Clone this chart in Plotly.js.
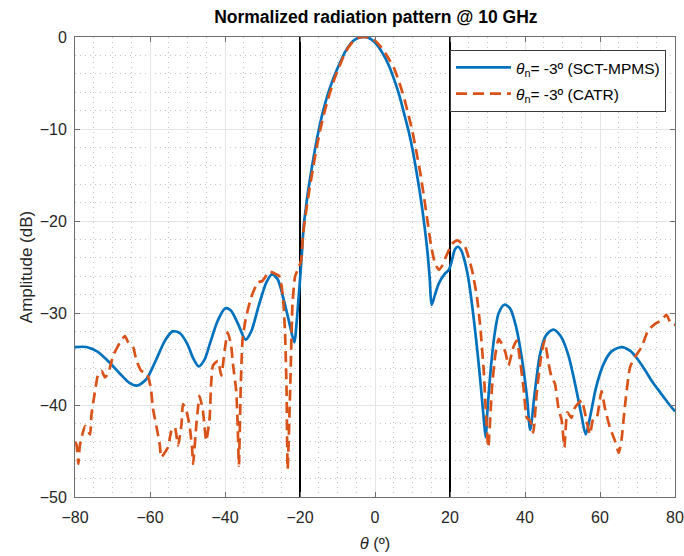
<!DOCTYPE html>
<html>
<head>
<meta charset="utf-8">
<script src="https://cdn.plot.ly/plotly-3.0.1.min.js"></script>
<style>html,body{margin:0;padding:0;background:#fff;}#chart{width:684px;height:556px;}</style>
</head>
<body>
<div id="chart"></div>
<script>
// SCT-MPMS measurement (theta in degrees, amplitude in dB)
const thetaSCT = [-80,-77,-74,-71,-68,-65.5,-63.5,-61,-58.5,-56,-54,-52,-50,-48.5,-47,-45.5,-44,-42,-40,-38.5,-36.5,-34.5,-33,-31,-29,-27.5,-26,-24.5,-23,-21.5,-21,-20.5,-20,-19.5,-19,-18.5,-18,-17,-16,-15,-14,-13,-12,-11,-10,-9,-8,-7,-6,-5,-4,-3,-2,-1,0,1,2,3,4,5,6,7,8,9,10,11,12,13,14,14.6,15.1,16,17,18.5,19.7,20.5,21.3,22.1,23,24,25,26,27,28,29,29.5,30,31,32,33,34.5,36,37.5,39,40.5,41.4,42.5,44,45.5,47.5,49.5,51.5,53.5,55,56.2,57.5,59,61,63,65.7,68,70,72,74,76,78,80];
const ampSCT = [-33.7,-33.7,-34.2,-35.3,-36.6,-37.6,-37.9,-37.2,-35.2,-33.0,-32.0,-32.2,-33.4,-34.9,-35.8,-35.1,-33.3,-30.9,-29.5,-29.7,-31.2,-32.9,-32.0,-29.2,-26.7,-25.8,-26.3,-28.3,-30.8,-33.2,-31.5,-29.0,-26.4,-23.5,-20.5,-18.8,-17.2,-14.6,-12.2,-10.1,-8.3,-6.8,-5.5,-4.4,-3.4,-2.5,-1.65,-1.0,-0.5,-0.2,-0.05,0,-0.05,-0.25,-0.6,-1.1,-1.75,-2.5,-3.4,-4.5,-5.7,-7.1,-8.7,-10.3,-12.2,-14.5,-17.0,-19.9,-23.4,-26.3,-29.1,-28.0,-26.8,-25.8,-25.3,-24.3,-23.1,-22.8,-23.2,-24.5,-26.5,-29.5,-33.0,-37.0,-41.5,-43.5,-40.5,-35.5,-32.0,-30.0,-29.1,-29.5,-31.3,-34.5,-39.0,-42.7,-39.0,-34.5,-32.5,-31.8,-32.5,-34.5,-38.0,-41.0,-43.2,-41.0,-38.0,-35.5,-34.2,-33.7,-34.1,-35.0,-36.2,-37.5,-38.6,-39.7,-40.7];

// CATR measurement
const thetaCATR = [-80,-79.6,-79.1,-78.7,-77.3,-76,-75.6,-74.7,-73.8,-72.9,-72,-71.1,-69.8,-68,-66.7,-65.8,-64.5,-63.6,-62.3,-60.9,-59.8,-59.2,-58.3,-57.4,-57,-56.1,-55.2,-54.3,-53.4,-52.5,-51.6,-51.2,-50.3,-49.4,-48.8,-48.5,-47.7,-47.2,-46.8,-45.9,-45,-44.1,-43.7,-43.2,-41.9,-41,-40.1,-39.3,-38.4,-37.9,-37,-36.6,-36.3,-35.8,-35.3,-34.4,-33,-31.3,-30,-28.2,-26.8,-25.5,-24.6,-24.0,-23.6,-23.3,-22.6,-22.0,-21.3,-20.3,-19.7,-19.2,-18.5,-17.5,-16.5,-15.5,-14.5,-13.5,-12.5,-11.5,-10.5,-9.5,-8.5,-7.5,-6.5,-5.5,-4.5,-3,-1.5,0,1,2,3,4,5,6,7,8,9,10,11,12,13,14,15,16,17,18,19,20.5,22,24,25.9,27.2,28.1,29,29.5,30.2,31.2,32.1,33,34,34.8,35.6,36.9,37.8,38.7,39.6,40.5,41.4,42.2,43.1,44.2,45.2,46.3,47.1,48,48.9,49.8,50.5,51.3,52.4,53.3,55.1,56.4,57.3,58.2,59.1,60.4,61.3,62.6,64,65,65.7,66.6,68,69.3,71.1,72.8,74.6,76.4,77.7,79,80];
const ampCATR = [-44.0,-44.3,-46.4,-44.4,-42.3,-43.2,-41.0,-38.6,-36.6,-36.3,-37.0,-36.5,-34.6,-33.2,-32.5,-33.2,-33.7,-35.2,-36.3,-36.5,-38.1,-40.4,-42.3,-44.3,-45.7,-45.2,-44.6,-42.8,-42.4,-44.4,-42.1,-39.9,-40.6,-42.4,-44.6,-46.4,-42.4,-40.3,-39.0,-40.6,-43.9,-41.4,-37.7,-35.7,-35.2,-36.8,-34.1,-32.1,-33.4,-35.5,-38.5,-42.4,-46.6,-38.0,-32.8,-30.5,-28.3,-26.7,-26.5,-25.5,-25.7,-26.0,-28.0,-32.0,-38.0,-47.0,-38.0,-29.0,-26.0,-25.0,-24.3,-21.5,-19.3,-16.6,-14.2,-11.9,-9.9,-8.2,-6.7,-5.4,-4.2,-3.2,-2.2,-1.4,-0.8,-0.35,-0.1,0,-0.08,-0.4,-0.8,-1.3,-1.9,-2.6,-3.3,-4.4,-5.6,-7.0,-8.6,-10.3,-12.4,-14.6,-17.2,-20.0,-22.8,-24.6,-25.3,-24.8,-23.8,-22.5,-22.1,-22.8,-25.4,-28.3,-31.6,-36.3,-40.3,-44.6,-38.1,-34.5,-32.8,-33.5,-34.3,-35.7,-33.7,-33.0,-35.2,-38.1,-41.4,-41.7,-43.0,-38.8,-35.0,-33.0,-35.5,-37.0,-37.7,-40.3,-41.7,-44.6,-40.8,-41.4,-40.3,-39.5,-41.7,-43.2,-41.5,-41.4,-38.5,-40.3,-42.4,-43.9,-45.2,-43.9,-40.3,-35.9,-34.8,-33.7,-31.9,-31.2,-30.8,-30.2,-31.2,-31.3];

// Reference angles marked with vertical lines
const markerAngles = [-20, 20];
const yLimits = [-50, 0];
const xLimits = [-80, 80];

const legendSCT = '<i>θ</i><sub>n</sub>= -3º (SCT-MPMS)';
const legendCATR = '<i>θ</i><sub>n</sub>= -3º (CATR)';

const traces = [];
markerAngles.forEach(a => {
  traces.push({x:[a,a], y:yLimits, mode:'lines', line:{color:'#000000', width:2}, showlegend:false, hoverinfo:'skip'});
});
traces.push({x:thetaSCT, y:ampSCT, mode:'lines', name:legendSCT, legendgroup:'sct', line:{color:'#0072BD', width:2.7, shape:'spline', smoothing:0.8}});
traces.push({x:thetaCATR, y:ampCATR, mode:'lines', name:legendCATR, legendgroup:'catr', line:{color:'#D95319', width:2.7, dash:'11px,6px', shape:'spline', smoothing:0.5}});

const gridMajor = '#e4e4e4';
const gridMinor = '#c4c4c4';
const axisCol = '#6e6e6e';
const txt = '#262626';

const layout = {
  width:684, height:556,
  margin:{l:75, r:9, t:37, b:59},
  paper_bgcolor:'#ffffff', plot_bgcolor:'#ffffff',
  font:{family:'Liberation Sans, Arial, sans-serif', size:15, color:txt},
  title:{text:'<b>Normalized radiation pattern @ 10 GHz</b>', x:0.5495, xanchor:'center', y:0.969, yanchor:'middle', font:{size:17.5, color:'#000000', family:'Liberation Sans, Arial, sans-serif'}},
  showlegend:true,
  legend:{x:0.985, xanchor:'right', y:0.972, yanchor:'top', bgcolor:'#ffffff', bordercolor:'#3c3c3c', borderwidth:1, font:{size:15.5, color:'#000000'}, itemwidth:55, tracegroupgap:3},
  xaxis:{range:xLimits, dtick:20, tick0:-80, showgrid:true, gridcolor:gridMajor, gridwidth:1, zeroline:false,
    ticks:'inside', ticklen:5, tickcolor:axisCol, showline:true, linecolor:axisCol, linewidth:1, mirror:'ticks',
    tickfont:{size:16, color:txt}, ticklabeloverflow:'allow', ticklabelstandoff:6,
    minor:{dtick:5, showgrid:true, gridcolor:gridMinor, griddash:'1px,4px', gridwidth:1, ticks:''},
    title:{text:'<i>θ</i> (º)', font:{size:16.5, color:txt}, standoff:12}},
  yaxis:{range:yLimits, dtick:10, showgrid:true, gridcolor:gridMajor, gridwidth:1, zeroline:false,
    ticks:'inside', ticklen:5, tickcolor:axisCol, showline:true, linecolor:axisCol, linewidth:1, mirror:'ticks',
    tickfont:{size:16, color:txt}, ticklabelstandoff:4,
    minor:{dtick:2, showgrid:true, gridcolor:gridMinor, griddash:'1px,4px', gridwidth:1, ticks:''},
    title:{text:'Amplitude (dB)', font:{size:17, color:txt}, standoff:2}}
};

Plotly.newPlot('chart', traces, layout, {displayModeBar:false, staticPlot:true});
</script>
</body>
</html>
